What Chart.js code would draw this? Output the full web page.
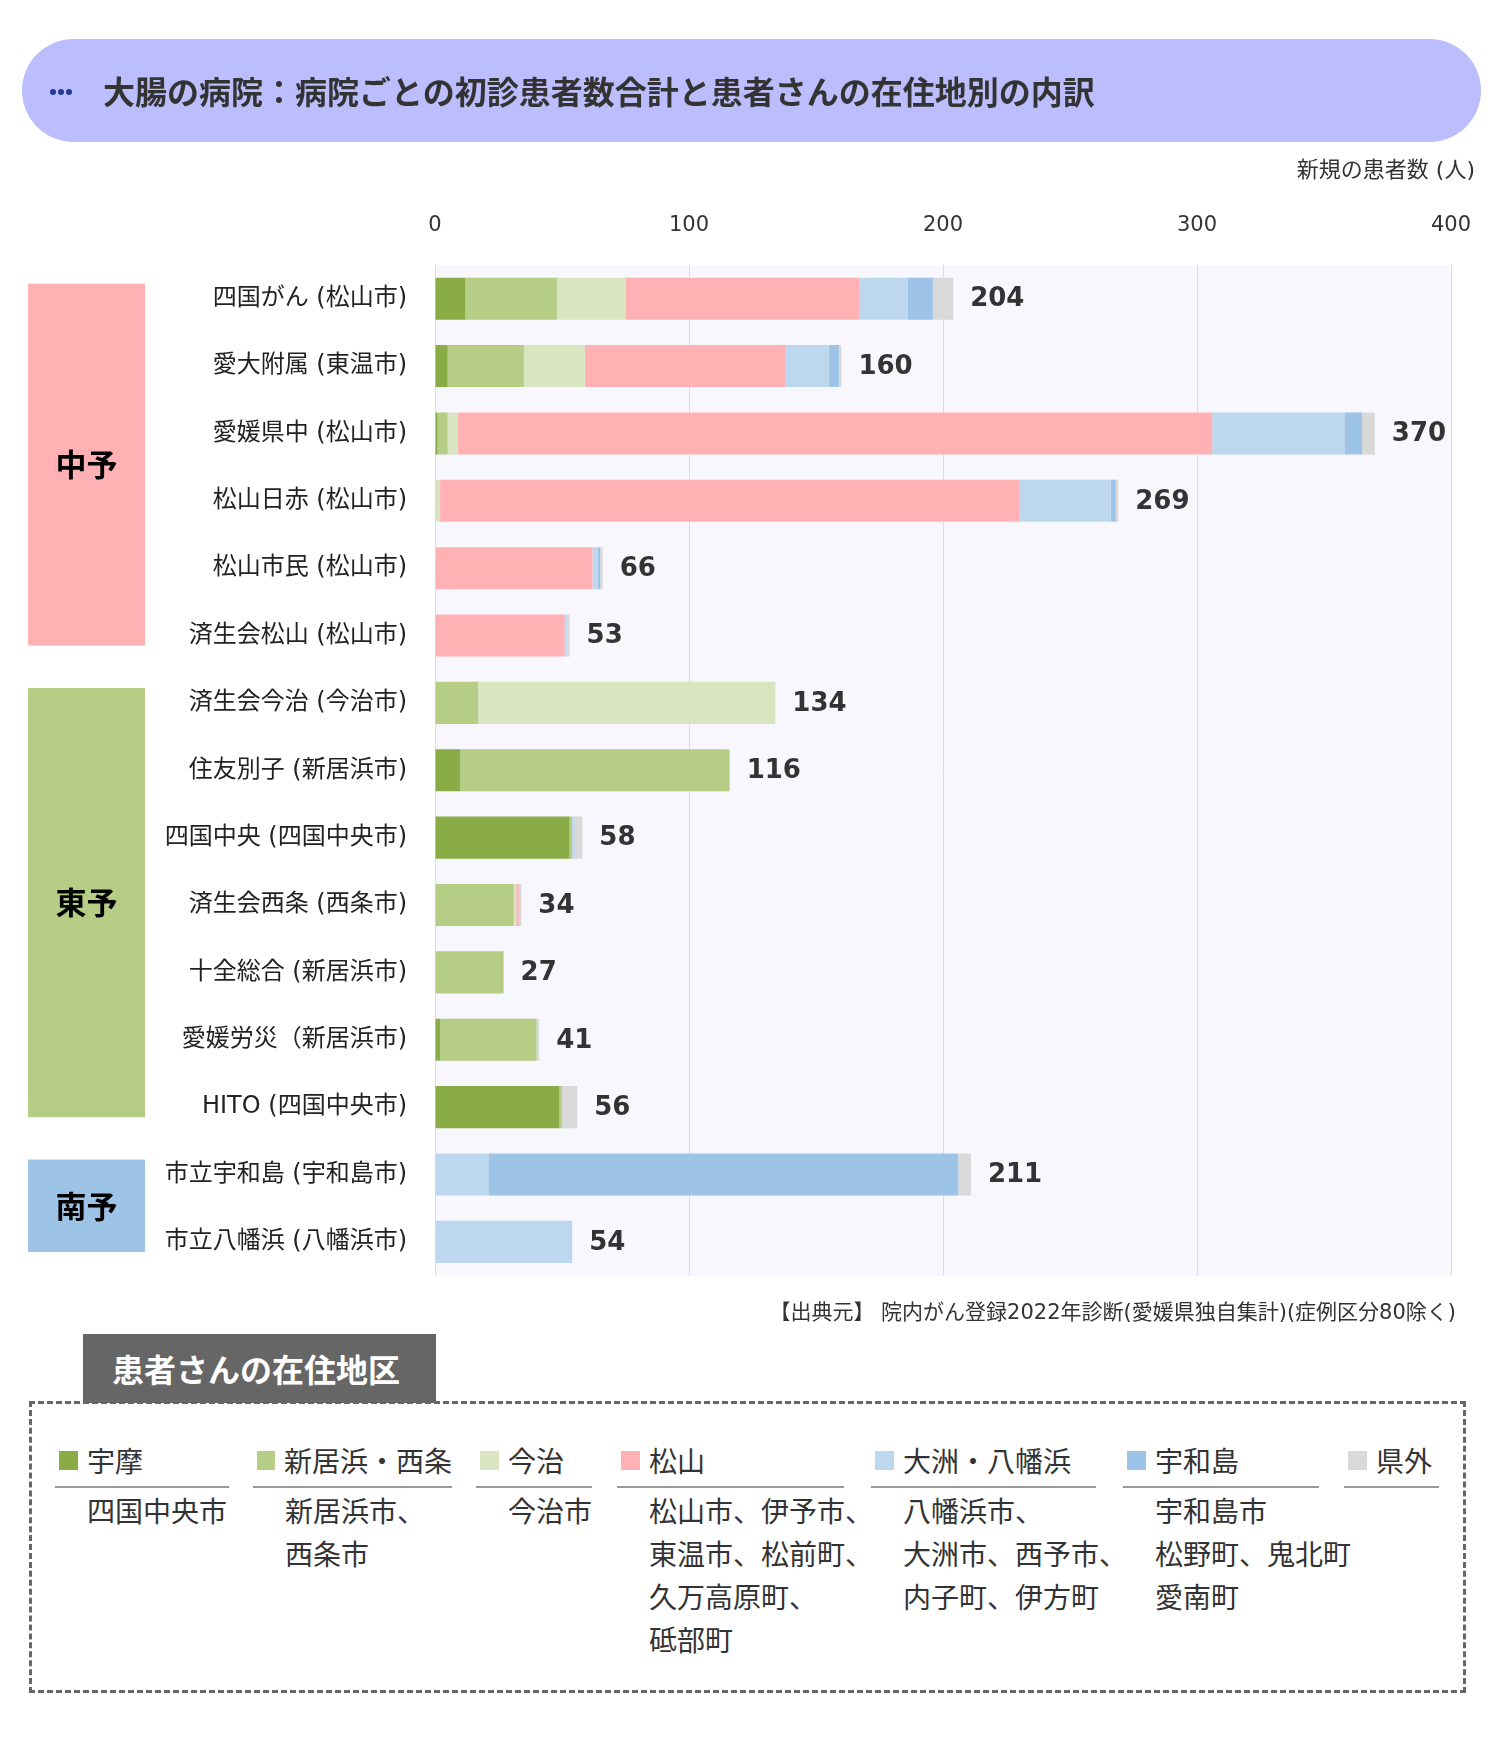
<!DOCTYPE html>
<html lang="ja">
<head>
<meta charset="utf-8">
<title>大腸の病院：病院ごとの初診患者数合計と患者さんの在住地別の内訳</title>
<script src="https://cdn.jsdelivr.net/npm/chart.js@4.4.1/dist/chart.umd.min.js"></script>
<style>
  body { margin: 0; background: #fff; font-family: "Noto Sans CJK JP", "Noto Sans", sans-serif; color: #333; }
  #page { position: relative; width: 1500px; height: 1740px; overflow: hidden; }
  #chartWrap { position: absolute; left: 0; top: 0; width: 1500px; height: 1318px; }
  .header { position: absolute; left: 22px; top: 39px; width: 1459px; height: 103px; border-radius: 52px; background: #bcbdfd; }
  .header .dots { position: absolute; left: 28px; top: 49px; line-height: 0; }
  .header .dots span { display: inline-block; width: 6px; height: 6px; border-radius: 50%; background: #24398f; margin-right: 2px; }
  .header h1 { position: absolute; left: 81px; top: 0; margin: 0; line-height: 103px; font-size: 32px; font-weight: bold; color: #333; white-space: nowrap; }
  .unit { position: absolute; right: 25px; top: 156px; font-family: "DejaVu Sans", "Noto Sans CJK JP", sans-serif; font-size: 22px; line-height: 28px; color: #333; }
  .source { position: absolute; right: 44px; top: 1298px; font-family: "DejaVu Sans", "Noto Sans CJK JP", sans-serif; font-size: 21px; line-height: 28px; color: #333; white-space: nowrap; }
  .tab { position: absolute; left: 83px; top: 1334px; width: 353px; height: 69px; background: #666; color: #fff; font-size: 32px; font-weight: bold; line-height: 69px; padding-left: 29px; box-sizing: border-box; z-index: 2; }
  .box { position: absolute; left: 29px; top: 1401px; width: 1437px; height: 292px; border: 3px dashed #666; box-sizing: border-box; }
  .col { position: absolute; top: 1440px; }
  .ltitle { height: 40px; padding-bottom: 6px; border-bottom: 2px solid #999; display: flex; align-items: center; font-size: 28px; color: #333; white-space: nowrap; }
  .ltitle i { display: inline-block; width: 19px; height: 19px; margin-left: 4px; margin-right: 9px; }
  .litems { padding-left: 32px; margin-top: 1px; font-size: 28px; line-height: 43px; color: #333; white-space: nowrap; }
</style>
</head>
<body>
<div id="page">
  <div id="chartWrap"><canvas id="chart" width="1500" height="1318"></canvas></div>
  <div class="header">
    <div class="dots"><span></span><span></span><span></span></div>
    <h1>大腸の病院：病院ごとの初診患者数合計と患者さんの在住地別の内訳</h1>
  </div>
  <div class="unit">新規の患者数 (人)</div>
  <div class="source">【出典元】 院内がん登録2022年診断(愛媛県独自集計)(症例区分80除く)</div>
  <div class="tab">患者さんの在住地区</div>
  <div class="box"></div>
  <div id="legend"></div>
</div>
<script>
// hospitals, top to bottom
const hospitals = [
  "四国がん (松山市)", "愛大附属 (東温市)", "愛媛県中 (松山市)", "松山日赤 (松山市)",
  "松山市民 (松山市)", "済生会松山 (松山市)", "済生会今治 (今治市)", "住友別子 (新居浜市)",
  "四国中央 (四国中央市)", "済生会西条 (西条市)", "十全総合 (新居浜市)", "愛媛労災（新居浜市)",
  "HITO (四国中央市)", "市立宇和島 (宇和島市)", "市立八幡浜 (八幡浜市)"
];

// patients by area of residence
const areaNames = ["宇摩", "新居浜・西条", "今治", "松山", "大洲・八幡浜", "宇和島", "県外"];
const umaValues       = [12,  5,   1,   0,  0,  0,   0,  10, 53,  0,  0,  2, 49,   0,  0];
const niihamaValues   = [36, 30,   4,   0,  0,  0,  17, 106,  1, 31, 27, 38,  1,   0,  0];
const imabariValues   = [27, 24,   4,   2,  0,  0, 117,   0,  0,  1,  0,  0,  0,   0,  0];
const matsuyamaValues = [92, 79, 297, 228, 62, 51,   0,   0,  0,  1,  0,  0,  0,   0,  0];
const ozuValues       = [19, 17,  52,  36,  2,  1,   0,   0,  1,  0,  0,  0,  0,  21, 54];
const uwajimaValues   = [10,  4,   7,   2,  1,  0,   0,   0,  0,  0,  0,  0,  0, 185,  0];
const outsideValues   = [ 8,  1,   5,   1,  1,  1,   0,   0,  3,  1,  0,  1,  6,   5,  0];
const areaValues = [umaValues, niihamaValues, imabariValues, matsuyamaValues, ozuValues, uwajimaValues, outsideValues];

const areaMembers = [
  ["四国中央市"],
  ["新居浜市、", "西条市"],
  ["今治市"],
  ["松山市、伊予市、", "東温市、松前町、", "久万高原町、", "砥部町"],
  ["八幡浜市、", "大洲市、西予市、", "内子町、伊方町"],
  ["宇和島市", "松野町、鬼北町", "愛南町"],
  []
];

const xTicks = [0, 100, 200, 300, 400];

// hospital groups (index ranges of hospitals)
const regionNames = ["中予", "東予", "南予"];
const regionFirst = [0, 6, 13];
const regionLast = [5, 12, 14];

const areaColors = ["#8aac46", "#b5cd85", "#d9e5c0", "#ffb1b3", "#bdd7ee", "#9dc3e6", "#d9d9d9"];
const regionColors = ["#ffb1b3", "#b5cd85", "#9dc3e6"];

const totals = hospitals.map((_, r) => areaValues.reduce((sum, arr) => sum + arr[r], 0));
const FONT = '"Noto Sans CJK JP", "Noto Sans", sans-serif';
const LATIN_FONT = '"DejaVu Sans", "Noto Sans CJK JP", sans-serif';

Chart.defaults.font.family = FONT;

const plotBackground = {
  id: "plotBackground",
  beforeDraw(chart) {
    const { ctx, chartArea } = chart;
    ctx.save();
    ctx.fillStyle = "#f7f7fd";
    ctx.fillRect(chartArea.left, chartArea.top, chartArea.right - chartArea.left, chartArea.bottom - chartArea.top);
    ctx.restore();
  }
};

const regionBoxes = {
  id: "regionBoxes",
  afterDraw(chart) {
    const { ctx } = chart;
    const y = chart.scales.y;
    ctx.save();
    regionNames.forEach((name, i) => {
      const top = y.getPixelForValue(regionFirst[i]) - 15;
      const bottom = y.getPixelForValue(regionLast[i]) + 10;
      ctx.fillStyle = regionColors[i];
      ctx.fillRect(28, top, 117, bottom - top);
      ctx.fillStyle = "#000";
      ctx.font = "bold 31px " + FONT;
      ctx.textAlign = "center";
      ctx.textBaseline = "middle";
      ctx.fillText(name, 86.5, (top + bottom) / 2);
    });
    ctx.restore();
  }
};

const totalLabels = {
  id: "totalLabels",
  afterDatasetsDraw(chart) {
    const { ctx } = chart;
    const x = chart.scales.x;
    const y = chart.scales.y;
    ctx.save();
    ctx.fillStyle = "#333";
    ctx.font = "bold 26px " + LATIN_FONT;
    ctx.textAlign = "left";
    ctx.textBaseline = "middle";
    totals.forEach((total, i) => {
      ctx.fillText(String(total), x.getPixelForValue(total) + 17, y.getPixelForValue(i) + 1);
    });
    ctx.restore();
  }
};

new Chart(document.getElementById("chart"), {
  type: "bar",
  data: {
    labels: hospitals,
    datasets: areaNames.map((name, i) => ({
      label: name,
      data: areaValues[i],
      backgroundColor: areaColors[i],
      borderWidth: 0,
      barPercentage: 0.625,
      categoryPercentage: 1
    }))
  },
  options: {
    indexAxis: "y",
    responsive: false,
    animation: false,
    devicePixelRatio: 1,
    layout: { padding: { left: 0, top: 0, right: 49, bottom: 0 } },
    plugins: {
      legend: { display: false },
      tooltip: { enabled: false }
    },
    scales: {
      x: {
        position: "top",
        stacked: true,
        min: 0,
        max: 400,
        afterBuildTicks: (scale) => { scale.ticks = xTicks.map((v) => ({ value: v })); },
        afterFit: (scale) => { scale.height = 265; },
        grid: { color: "#dcdce2", drawTicks: false },
        border: { display: false },
        ticks: { color: "#333", font: { family: LATIN_FONT, size: 21 }, padding: 27, maxRotation: 0 }
      },
      y: {
        stacked: true,
        afterFit: (scale) => { scale.width = 435; },
        grid: { display: false, drawTicks: false },
        border: { display: false },
        ticks: { color: "#222", font: { family: LATIN_FONT, size: 24 }, padding: 28 }
      }
    }
  },
  plugins: [plotBackground, regionBoxes, totalLabels]
});

// legend of residence areas
const legendLeft = [55, 253, 476, 617, 871, 1123, 1344];
const legendWidth = [174, 199, 116, 227, 225, 196, 95];
const legend = document.getElementById("legend");
areaNames.forEach((name, i) => {
  const col = document.createElement("div");
  col.className = "col";
  col.style.left = legendLeft[i] + "px";
  col.style.width = legendWidth[i] + "px";
  const title = document.createElement("div");
  title.className = "ltitle";
  const sw = document.createElement("i");
  sw.style.background = areaColors[i];
  title.appendChild(sw);
  title.appendChild(document.createTextNode(name));
  col.appendChild(title);
  const items = document.createElement("div");
  items.className = "litems";
  areaMembers[i].forEach((m) => {
    const line = document.createElement("div");
    line.textContent = m;
    items.appendChild(line);
  });
  col.appendChild(items);
  legend.appendChild(col);
});
</script>
</body>
</html>
